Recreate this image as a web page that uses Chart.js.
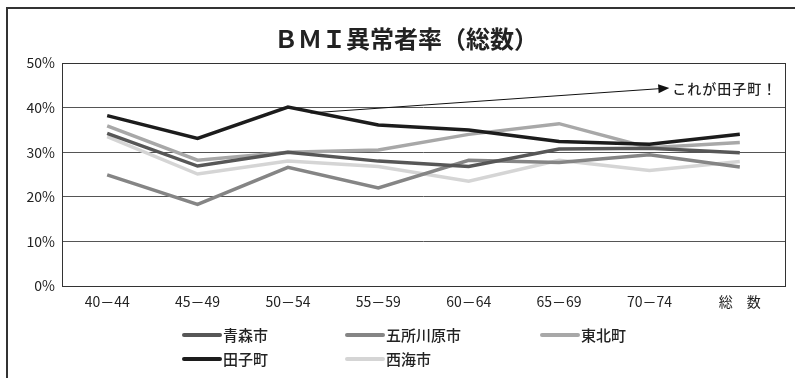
<!DOCTYPE html>
<html>
<head>
<meta charset="utf-8">
<script src="https://cdn.jsdelivr.net/npm/chart.js@4"></script>
<style>
  body { margin: 0; background: #fff; }
  #wrap { position: relative; width: 795px; height: 378px; }
</style>
</head>
<body>
<div id="wrap"><canvas id="bmiChart" width="795" height="378"></canvas></div>
<script>
// age groups on the x axis
const ageGroups = ['40－44', '45－49', '50－54', '55－59', '60－64', '65－69', '70－74', '総　数'];

// BMI abnormal rate (%) per town
const aomori = [34.2, 26.9, 30.0, 28.0, 26.8, 30.7, 30.9, 29.9];
const goshogawara = [24.9, 18.3, 26.6, 22.0, 28.2, 27.7, 29.4, 26.7];
const tohoku = [35.9, 28.2, 30.0, 30.5, 34.0, 36.4, 31.0, 32.2];
const tago = [38.2, 33.1, 40.1, 36.1, 35.0, 32.4, 31.8, 34.0];
const saikai = [33.5, 25.1, 28.0, 26.8, 23.5, 28.2, 25.9, 27.9];

const yTicks = [0, 10, 20, 30, 40, 50];

const chartTitle = 'ＢＭＩ異常者率（総数）';

// callout arrow, in data units (category index, percent)
const calloutFrom = { x: 2.25, y: 38.8 };
const calloutTo = { x: 6.22, y: 44.4 };
const calloutText = 'これが田子町！';

const jpFont = '"Noto Sans CJK JP", "Noto Sans", sans-serif';

// frame, title, plot box, callout and legend
const extras = {
  id: 'extras',
  afterDraw(chart) {
    const ctx = chart.ctx;
    const a = chart.chartArea;
    const xs = chart.scales.x, ys = chart.scales.y;
    ctx.save();

    // outer frame (cut off on the right and bottom)
    ctx.strokeStyle = '#333';
    ctx.lineWidth = 2;
    ctx.strokeRect(7, 8, 800, 400);

    // title, centred on the full (uncropped) frame
    ctx.font = 'bold 24px ' + jpFont;
    ctx.fillStyle = '#222';
    ctx.textAlign = 'center';
    ctx.textBaseline = 'middle';
    ctx.fillText(chartTitle, 406, 39);

    // plot box
    ctx.lineWidth = 1;
    ctx.strokeStyle = '#333';
    ctx.strokeRect(Math.round(a.left) + 0.5, Math.round(a.top) + 0.5,
      Math.round(a.right - a.left), Math.round(a.bottom - a.top));

    // callout arrow
    const x1 = xs.getPixelForValue(calloutFrom.x), y1 = ys.getPixelForValue(calloutFrom.y);
    const x2 = xs.getPixelForValue(calloutTo.x), y2 = ys.getPixelForValue(calloutTo.y);
    const ang = Math.atan2(y2 - y1, x2 - x1);
    ctx.strokeStyle = '#111';
    ctx.fillStyle = '#111';
    ctx.lineWidth = 1;
    ctx.beginPath();
    ctx.moveTo(x1, y1);
    ctx.lineTo(x2 - 9 * Math.cos(ang), y2 - 9 * Math.sin(ang));
    ctx.stroke();
    ctx.beginPath();
    ctx.moveTo(x2, y2);
    ctx.lineTo(x2 - 11 * Math.cos(ang) + 4.5 * Math.sin(ang), y2 - 11 * Math.sin(ang) - 4.5 * Math.cos(ang));
    ctx.lineTo(x2 - 11 * Math.cos(ang) - 4.5 * Math.sin(ang), y2 - 11 * Math.sin(ang) + 4.5 * Math.cos(ang));
    ctx.closePath();
    ctx.fill();
    ctx.font = '500 14px ' + jpFont;
    ctx.letterSpacing = '1px';
    ctx.textAlign = 'left';
    ctx.fillStyle = '#222';
    ctx.fillText(calloutText, x2 + 3, y2 + 1);
    ctx.letterSpacing = '0px';

    // legend, 3 columns
    const cols = [182, 345, 540];
    const rows = [335, 359];
    ctx.font = '500 15px ' + jpFont;
    chart.data.datasets.forEach((ds, i) => {
      const lx = cols[i % 3], ly = rows[Math.floor(i / 3)];
      ctx.strokeStyle = ds.borderColor;
      ctx.lineWidth = 4;
      ctx.lineCap = 'round';
      ctx.beginPath();
      ctx.moveTo(lx + 2, ly);
      ctx.lineTo(lx + 38, ly);
      ctx.stroke();
      ctx.fillStyle = '#222';
      ctx.fillText(ds.label, lx + 41, ly);
    });
    ctx.restore();
  }
};

new Chart(document.getElementById('bmiChart'), {
  type: 'line',
  data: {
    labels: ageGroups,
    datasets: [
      { label: '青森市', data: aomori, borderColor: '#575757', order: 2 },
      { label: '五所川原市', data: goshogawara, borderColor: '#858585', order: 4 },
      { label: '東北町', data: tohoku, borderColor: '#a8a8a8', order: 3 },
      { label: '田子町', data: tago, borderColor: '#1c1c1c', order: 1 },
      { label: '西海市', data: saikai, borderColor: '#d5d5d5', order: 5 }
    ]
  },
  options: {
    responsive: false,
    animation: false,
    layout: { padding: { left: 8, right: 10, top: 63, bottom: 0 } },
    elements: {
      line: { borderWidth: 3.5, tension: 0, fill: false },
      point: { radius: 0 }
    },
    plugins: {
      legend: { display: false },
      tooltip: { enabled: false },
      title: { display: false }
    },
    scales: {
      x: {
        offset: true,
        grid: { display: false, drawTicks: false },
        border: { display: false },
        ticks: { color: '#222', font: { family: jpFont, size: 14 }, padding: 7, maxRotation: 0 },
        afterFit(scale) { scale.height = 92; }
      },
      y: {
        min: 0,
        max: 50,
        afterBuildTicks(scale) { scale.ticks = yTicks.map(v => ({ value: v })); },
        grid: { color: '#555', drawTicks: false },
        border: { display: false },
        ticks: { color: '#222', font: { family: jpFont, size: 14 }, padding: 7, callback: v => v + '%' },
        afterFit(scale) { scale.width = 54; }
      }
    }
  },
  plugins: [extras]
});
</script>
</body>
</html>
